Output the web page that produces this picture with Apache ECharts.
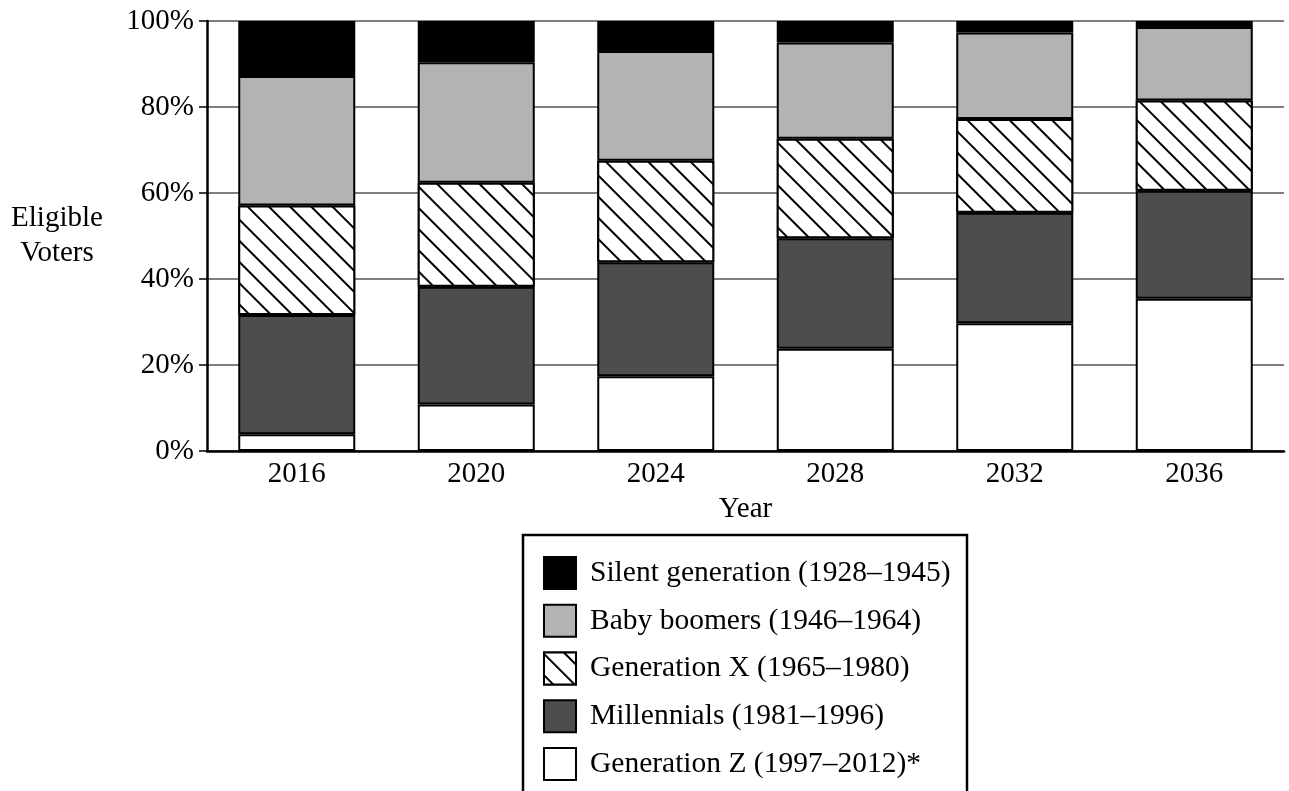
<!DOCTYPE html>
<html>
<head>
<meta charset="utf-8">
<script src="https://cdn.jsdelivr.net/npm/echarts@6/dist/echarts.min.js"></script>
<style>
  html, body { margin: 0; padding: 0; background: #fff; }
  #chart { width: 1289px; height: 791px; }
</style>
</head>
<body>
<div id="chart"></div>
<script>
// categories
const years = ["2016", "2020", "2024", "2028", "2032", "2036"];

// share of eligible voters (%) per generation
const genZ        = [3.9, 10.8, 17.4, 23.8, 29.7, 35.4];
const millennials = [27.7, 27.4, 26.5, 25.7, 25.7, 25.1];
const genX        = [25.5, 24.2, 23.6, 23.1, 21.8, 21.0];
const boomers     = [30.1, 28.0, 25.5, 22.4, 20.1, 17.1];
const silent      = [12.8, 9.6, 7.0, 5.0, 2.7, 1.4];

const yTicks = [0, 20, 40, 60, 80, 100];

const names = {
    silent: "Silent generation (1928\u20131945)",
    boomers: "Baby boomers (1946\u20131964)",
    genX: "Generation X (1965\u20131980)",
    millennials: "Millennials (1981\u20131996)",
    genZ: "Generation Z (1997\u20132012)*"
};

const serif = "'Liberation Serif', 'DejaVu Serif', serif";

function barSeries(name, data, fill, decal) {
    const itemStyle = { color: fill, borderColor: "#000", borderWidth: 2 };
    if (decal) itemStyle.decal = decal;
    return {
        name: name,
        type: "bar",
        stack: "total",
        barWidth: 117,
        data: data,
        itemStyle: itemStyle,
        emphasis: { disabled: true }
    };
}

// "\" hatching for Generation X
const hatch = {
    symbol: "rect",
    symbolSize: 1,
    color: "#000",
    backgroundColor: "#fff",
    dashArrayX: [1, 0],
    dashArrayY: [1.6, 12.6],
    rotation: Math.PI / 4
};

const chart = echarts.init(document.getElementById("chart"));

chart.setOption({
    animation: false,
    backgroundColor: "#fff",
    textStyle: { fontFamily: serif, color: "#000" },
    grid: { left: 207, right: 5, top: 21, bottom: 340 },
    xAxis: {
        type: "category",
        data: years,
        name: "Year",
        nameLocation: "middle",
        nameGap: 44,
        nameTextStyle: { fontSize: 29, fontFamily: serif, color: "#000" },
        axisLine: { lineStyle: { color: "#000", width: 2.5 } },
        axisTick: { show: false },
        axisLabel: { fontSize: 29, fontFamily: serif, color: "#000", margin: 9 }
    },
    yAxis: {
        type: "value",
        min: yTicks[0],
        max: yTicks[yTicks.length - 1],
        interval: 20,
        name: "Eligible\nVoters",
        nameLocation: "middle",
        nameRotate: 0,
        nameGap: 150,
        nameTextStyle: { fontSize: 29, fontFamily: serif, color: "#000", lineHeight: 35, align: "center" },
        axisLine: { show: true, lineStyle: { color: "#000", width: 2.5 } },
        axisTick: { show: true, length: 8, lineStyle: { color: "#000", width: 1.5 } },
        axisLabel: { fontSize: 29, fontFamily: serif, color: "#000", margin: 13, formatter: "{value}%" },
        splitLine: { show: true, lineStyle: { color: "#555", width: 1.5 } }
    },
    legend: {
        orient: "vertical",
        left: 543,
        top: 556,
        height: 260,
        padding: 0,
        icon: "rect",
        itemWidth: 32,
        itemHeight: 32,
        itemGap: 13.75,
        selectedMode: false,
        textStyle: { fontSize: 29.5, lineHeight: 32, fontFamily: serif, color: "#000", padding: [0, 0, 0, 9] },
        data: [names.silent, names.boomers, names.genX, names.millennials, names.genZ]
    },
    graphic: [{
        type: "rect",
        shape: { x: 523, y: 535, width: 444, height: 300 },
        style: { fill: "none", stroke: "#000", lineWidth: 2.5 },
        z: -1
    }],
    series: [
        barSeries(names.genZ, genZ, "#fff"),
        barSeries(names.millennials, millennials, "#4d4d4d"),
        barSeries(names.genX, genX, "#fff", hatch),
        barSeries(names.boomers, boomers, "#b3b3b3"),
        barSeries(names.silent, silent, "#000")
    ]
});
</script>
</body>
</html>
